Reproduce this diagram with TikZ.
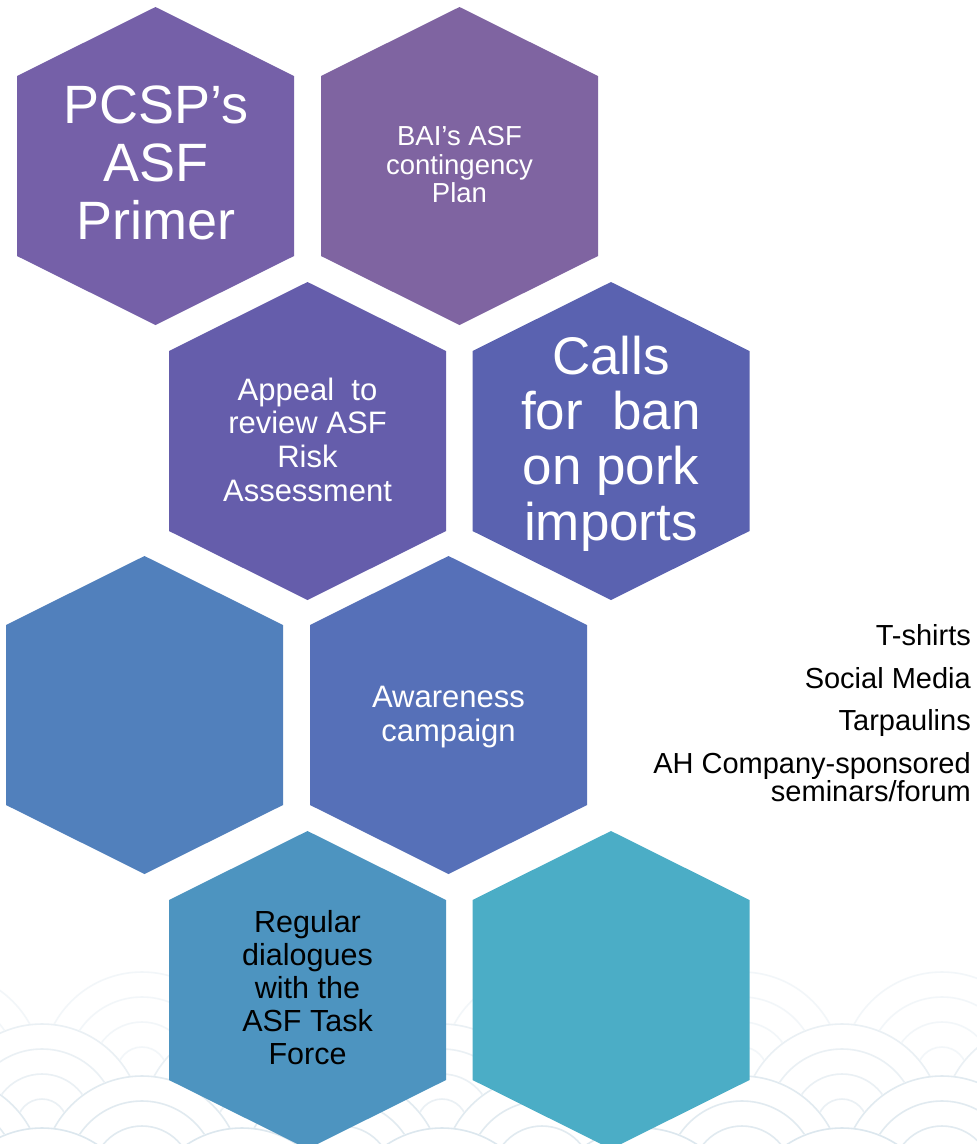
\documentclass[tikz,border=0pt]{standalone}
\usepackage{fontspec}
\setmainfont{Liberation Sans}
\definecolor{colA}{HTML}{7560A8}
\definecolor{colB}{HTML}{7F64A1}
\definecolor{colC}{HTML}{655DAB}
\definecolor{colD}{HTML}{5A62B0}
\definecolor{colE}{HTML}{5180BC}
\definecolor{colF}{HTML}{5670B8}
\definecolor{colG}{HTML}{4D94C0}
\definecolor{colH}{HTML}{4BADC6}
\definecolor{wavec}{HTML}{DCE7EE}
\newcommand\hexat[4]{%
  \coordinate (#1) at (#2,#3);
  \fill[#4] (#1) ++(0,-159) -- ++(138.5,69) -- ++(0,180) -- ++(-138.5,69)
     -- ++(-138.5,-69) -- ++(0,-180) -- cycle;}
\begin{document}
\begin{tikzpicture}[x=1pt,y=-1pt,
  hextext/.style={inner sep=0pt,align=center,text=white},
  bullet/.style={inner sep=0pt,align=right,anchor=base east,
     font=\fontsize{29}{27}\selectfont}]
\useasboundingbox (0,0) rectangle (977,1144);
\fill[white] (0,0) rectangle (977,1144);
% faint wave pattern at the bottom
\begin{scope}
\clip (0,0) rectangle (977,1144);
\foreach \r in {0,1,2,3}{
  \pgfmathsetmacro\cy{1072+52*\r}
  \pgfmathsetmacro\off{mod(\r+1,2)*100}
  \pgfmathsetmacro\op{0.35+0.25*\r}
  \foreach \k in {-1,...,5}{
    \pgfmathsetmacro\cx{42+\k*200+\off}
    \fill[white] (\cx,\cy) circle[radius=101];
    \foreach \rad in {100,75,50,25}
      \draw[wavec,line width=1.6pt,draw opacity=\op] (\cx,\cy) circle[radius=\rad];
  }
}
\end{scope}
% hexagons
\hexat{h1}{155.5}{166}{colA}
\hexat{h2}{459.5}{166}{colB}
\hexat{h3}{307.5}{441}{colC}
\hexat{h4}{611}{441}{colD}
\hexat{h5}{144.5}{715}{colE}
\hexat{h6}{448.5}{715}{colF}
\hexat{h7}{307.5}{990}{colG}
\hexat{h8}{611}{990}{colH}
% texts
\node[hextext,font=\fontsize{54}{58}\selectfont] (t1) at (156,163) {PCSP’s\\ASF\\Primer};
\node[hextext,font=\fontsize{27.5}{28.5}\selectfont] (t2) at (459.5,165) {BAI’s ASF\\contingency\\Plan};
\node[hextext,font=\fontsize{31}{33.7}\selectfont] (t3) at (307.5,439.5) {Appeal~ to\\review ASF\\Risk\\Assessment};
\node[hextext,font=\fontsize{53}{55.3}\selectfont] (t4) at (611,443.5) {Calls\\for~ ban\\on pork\\imports};
\node[hextext,font=\fontsize{31}{34}\selectfont] (t5) at (448.5,717) {Awareness\\campaign};
\node[hextext,text=black,font=\fontsize{30.5}{33}\selectfont] (t6) at (307.5,988) {Regular\\dialogues\\with the\\ASF Task\\Force};
% side list
\node[bullet] (b1) at (971,645) {T-shirts};
\node[bullet] (b2) at (971,688) {Social Media};
\node[bullet] (b3) at (971,730) {Tarpaulins};
\node[bullet,anchor=south east] (b4) at (971,802) {AH Company-sponsored\\seminars/forum};
\end{tikzpicture}
\end{document}
